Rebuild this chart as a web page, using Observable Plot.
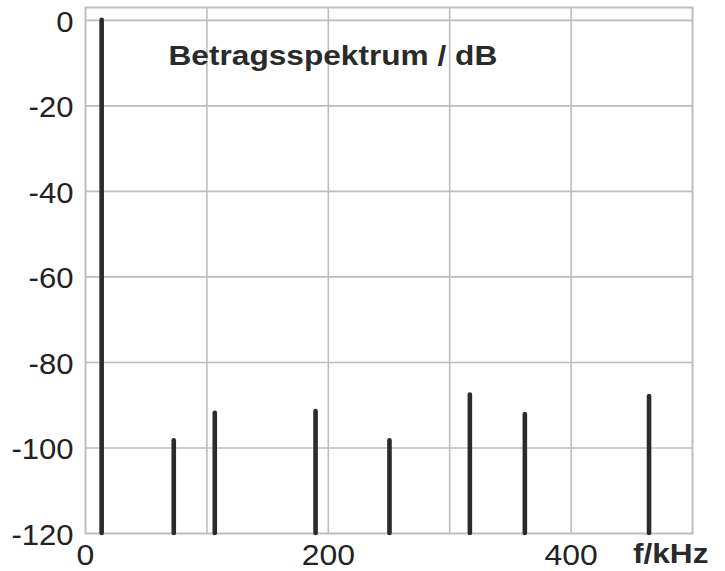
<!DOCTYPE html>
<html>
<head>
<meta charset="utf-8">
<script src="https://cdn.jsdelivr.net/npm/d3@7"></script>
<script src="https://cdn.jsdelivr.net/npm/@observablehq/plot@0.6"></script>
<style>
  html, body { margin: 0; padding: 0; background: #fff; }
</style>
</head>
<body>
<div id="chart"></div>
<script>
// Spectral lines: frequency (kHz) and magnitude (dB)
const freqs  = [13.3, 72.7, 106.5, 189.5, 250.4, 316.6, 361.9, 464.2];
const levels = [0, -98.3, -91.9, -91.5, -98.3, -87.6, -92.2, -88.0];

// Axis ticks
const xTickLabels = [0, 200, 400];
const xGridTicks = [100, 200, 300, 400];
const yTickLabels = [0, -20, -40, -60, -80, -100, -120];
const yGridTicks = [0, -20, -40, -60, -80, -100];

const titleText = ["Betragsspektrum / dB"];
const xLabelText = ["f/kHz"];

const data = freqs.map((f, i) => ({f, db: levels[i]}));

const gridColor = "#bdbdbd";
const ink = "#222";
const plainFormat = d => String(d);  // ASCII hyphen for negatives, as in the reference

const svg = Plot.plot({
  width: 725,
  height: 571,
  marginLeft: 85,
  marginRight: 33,
  marginTop: 7,
  marginBottom: 38,
  style: {fontFamily: "'Liberation Sans', Arial, sans-serif", background: "#fff", color: ink},
  x: {domain: [0, 500]},
  y: {domain: [-120, 3]},
  marks: [
    Plot.gridX(xGridTicks, {stroke: gridColor, strokeOpacity: 1, strokeWidth: 1.6}),
    Plot.gridY(yGridTicks, {stroke: gridColor, strokeOpacity: 1, strokeWidth: 1.6}),
    Plot.frame({stroke: gridColor, strokeWidth: 2}),
    Plot.ruleX(data, {x: "f", y1: -120, y2: "db", stroke: "#2b2b2b", strokeWidth: 4.6, strokeLinecap: "round"}),
    Plot.axisX(xTickLabels, {tickSize: 0, tickPadding: 11, fontSize: 29, label: null, fill: ink, tickFormat: plainFormat}),
    Plot.axisY(yTickLabels, {tickSize: 0, tickPadding: 12, fontSize: 29, label: null, fill: ink, dy: 2, tickFormat: plainFormat}),
    Plot.text(titleText, {frameAnchor: "top-left", textAnchor: "start", lineAnchor: "middle",
      dx: 83, dy: 49, fontSize: 28, fontWeight: "bold", fill: "#2a2a2a"}),
    Plot.text(xLabelText, {frameAnchor: "bottom-right", textAnchor: "end", lineAnchor: "middle",
      dx: 16, dy: 21, fontSize: 28, fontWeight: "bold", fill: "#2a2a2a"})
  ]
});

document.getElementById("chart").appendChild(svg);

// Horizontal stretch of glyphs to match the reference's wide lettering
const stretch = {"x-axis tick label": 1.1, "y-axis tick label": 1.07, "text": 1.13};
svg.querySelectorAll("g[aria-label]").forEach(g => {
  const k = stretch[g.getAttribute("aria-label")];
  if (!k) return;
  g.querySelectorAll("text").forEach(t => {
    const len = t.getComputedTextLength();
    t.setAttribute("textLength", (len * k).toFixed(1));
    t.setAttribute("lengthAdjust", "spacingAndGlyphs");
  });
});
</script>
</body>
</html>
